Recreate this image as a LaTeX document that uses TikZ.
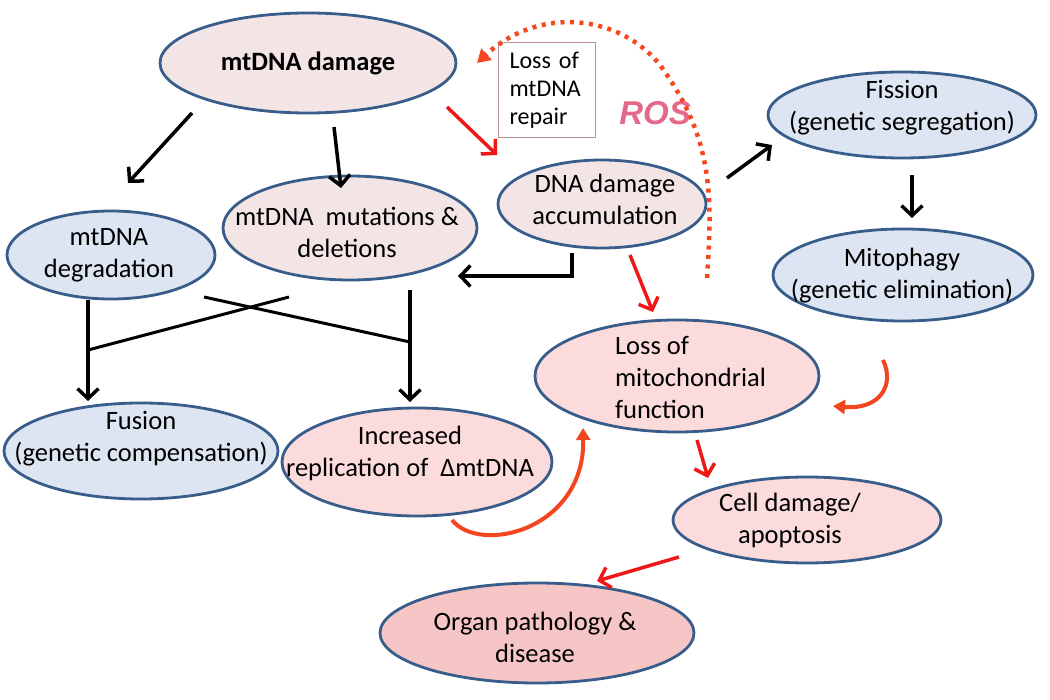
\documentclass[tikz,border=0pt]{standalone}
\usepackage{fontspec}
\setmainfont{Carlito}
\newfontfamily\rosfont{Liberation Sans}
\usetikzlibrary{arrows.meta,calc,shapes.geometric}

\definecolor{edgeblue}{RGB}{56,93,138}
\definecolor{paleP}{RGB}{243,229,229}
\definecolor{pinkP}{RGB}{251,219,219}
\definecolor{deepP}{RGB}{246,198,198}
\definecolor{blueF}{RGB}{220,229,241}
\definecolor{redA}{RGB}{238,24,24}
\definecolor{orA}{RGB}{242,70,30}
\definecolor{dotC}{RGB}{245,72,32}
\definecolor{rosC}{RGB}{228,104,136}
\definecolor{boxC}{RGB}{192,144,144}

\begin{document}
\begin{tikzpicture}[x=1pt,y=-1pt,
  el/.style={ellipse, draw=edgeblue, line width=2.8pt, inner sep=0pt},
  lbl/.style={align=center, font=\fontsize{26.5}{32}\selectfont, inner sep=0pt, text=black},
  blk/.style={draw=black, line width=3.5pt, -{Straight Barb[length=10pt,width=21pt]}},
  blkline/.style={draw=black, line width=3pt},
  reda/.style={draw=redA, line width=3.5pt, -{Straight Barb[length=10pt,width=21pt]}},
  cura/.style={draw=orA, line width=4pt, -{Triangle[length=12pt,width=14pt]}},
  rosarc/.style={draw=dotC, line width=4.5pt, dash pattern=on 4pt off 5.5pt, -{Triangle[length=13pt,width=15pt]}}
]
\useasboundingbox (0,0) rectangle (1050,700);

% ellipses
\node[el, fill=paleP, minimum width=296, minimum height=100,
  label={[lbl, name=dmgT, font=\bfseries\fontsize{26.5}{32}\selectfont]center:mtDNA damage}] (dmg) at (308,63) {};
\node[el, fill=blueF, minimum width=208, minimum height=88,
  label={[lbl, name=degrT, xshift=-2pt]center:mtDNA\\degradation}] (degr) at (111,255) {};
\node[el, fill=paleP, minimum width=254, minimum height=104,
  label={[lbl, name=mutT, xshift=-3pt, yshift=-4pt]center:mtDNA~~mutations \&\\deletions}] (mut) at (350,228) {};
\node[el, fill=paleP, minimum width=208, minimum height=88,
  label={[lbl, name=dnadT, xshift=3pt, yshift=5pt]center:DNA damage\\accumulation}] (dnad) at (602,204) {};
\node[el, fill=blueF, minimum width=268, minimum height=86,
  label={[lbl, name=fisT, yshift=7pt]center:Fission\\(genetic segregation)}] (fis) at (902,115) {};
\node[el, fill=blueF, minimum width=260, minimum height=92,
  label={[lbl, name=mitoT, xshift=-1pt, yshift=-1pt]center:Mitophagy\\(genetic elimination)}] (mito) at (903,275) {};
\node[el, fill=pinkP, minimum width=284, minimum height=112,
  label={[lbl, name=lossT, align=left, xshift=13.5pt, yshift=-2pt]center:Loss of\\mitochondrial\\function}] (loss) at (677,376) {};
\node[el, fill=blueF, minimum width=274, minimum height=96,
  label={[lbl, name=fusT, yshift=12pt]center:Fusion\\(genetic compensation)}] (fus) at (141,451) {};
\node[el, fill=pinkP, minimum width=270, minimum height=108,
  label={[lbl, name=incT, xshift=-7pt, yshift=9pt]center:Increased\\replication of~~ΔmtDNA}] (inc) at (417,462) {};
\node[el, fill=pinkP, minimum width=268, minimum height=86,
  label={[lbl, name=cellT, xshift=-17pt]center:Cell damage/\\apoptosis}] (cell) at (807,520) {};
\node[el, fill=deepP, minimum width=314, minimum height=100,
  label={[lbl, name=orgT, xshift=-2pt, yshift=-4pt]center:Organ pathology \&\\disease}] (org) at (537,633) {};

% repair box and ROS
\node[draw=boxC, line width=1pt, fill=white, anchor=north west, minimum width=97, minimum height=95,
  inner xsep=11pt, inner ysep=0pt, text width=75pt, align=left, font=\fontsize{24}{28}\selectfont] (repair) at (498,42) {Loss of\\mtDNA\\repair};
\node[font=\rosfont\bfseries\itshape\fontsize{33}{38}\selectfont, text=rosC, inner sep=0pt] (ros) at (655,113) {ROS};

% ROS feedback arc
\draw[rosarc] ($(loss)+(30,-98)$) .. controls (712,200) and (715,140) .. (660,65)
  .. controls (620,15) and (540,5) .. ($(dmg)+(169,0)$);

% black arrows
\draw[blk] ($(dmg)+(-116,50)$) -- ($(degr)+(17,-72)$);
\draw[blk] ($(dmg)+(26,64)$) -- ($(mut)+(-9,-40)$);
\draw[blk] ($(dnad)+(-30,49)$) |- ($(mut)+(108,48)$);
\draw[blk] ($(dnad)+(125,-26)$) -- ($(fis)+(-130,30)$);
\draw[blk] ($(fis)+(10,60)$) -- ($(mito)+(9,-57)$);
\draw[blk] ($(degr)+(-23,45)$) -- ($(fus)+(-53,-50)$);
\draw[blk] ($(mut)+(60,62)$) -- ($(inc)+(-7,-60)$);

% crossing lines
\coordinate (ja) at (88,350);
\coordinate (xa) at (289,297);
\coordinate (xb) at (204,297);
\coordinate (jb) at (410,342);
\draw[blkline] (ja) -- (xa);
\draw[blkline] (xb) -- (jb);

% red arrows
\draw[reda] ($(dmg)+(139,44)$) -- ($(dnad)+(-105,-49)$);
\draw[reda] ($(dnad)+(28,51)$) -- ($(loss)+(-24,-64)$);
\draw[reda] ($(loss)+(20,64)$) -- ($(cell)+(-99,-42)$);
\draw[reda] ($(cell)+(-128,37)$) -- ($(org)+(60,-52)$);

% curved orange arrows
\draw[cura] ($(mito)+(-20,85)$) .. controls +(12,25) and +(47,4) .. ($(loss)+(156,30)$);
\draw[cura] ($(inc)+(35,58)$) .. controls +(28,35) and +(2,102) .. ($(loss)+(-94,52)$);
\end{tikzpicture}
\end{document}
